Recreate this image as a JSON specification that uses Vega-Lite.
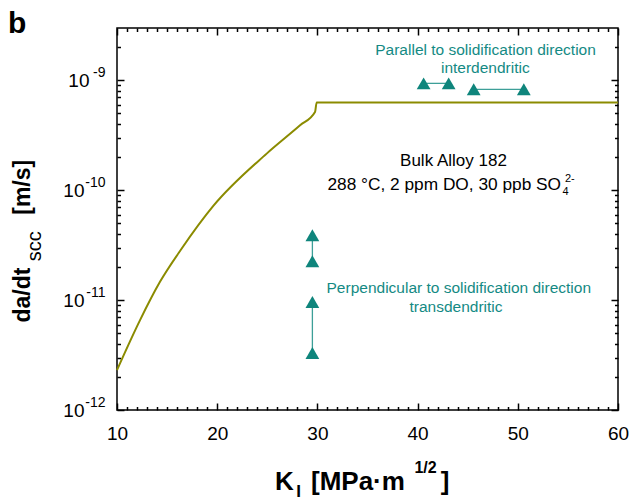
{
  "$schema": "https://vega.github.io/schema/vega-lite/v6.json",
  "width": 501,
  "height": 382,
  "autosize": "none",
  "padding": {"left": 117, "top": 28, "right": 19, "bottom": 89},
  "title": {"text": "b", "anchor": "start", "frame": "group", "fontSize": 30, "fontWeight": "bold", "font": "Liberation Sans", "color": "black", "baseline": "alphabetic", "dx": -109, "dy": 36, "offset": 0},
  "config": {
    "view": {"stroke": "black", "strokeWidth": 1.5},
    "font": "Liberation Sans",
    "axis": {"domain": false, "grid": false, "labelFont": "Liberation Sans", "labelColor": "black", "tickColor": "black", "tickWidth": 1.5, "zindex": 1}
  },
  "datasets": {
    "curve": [
      {"K": 10, "v": 2.31e-12},
      {"K": 12.3, "v": 6.58e-12},
      {"K": 14.29, "v": 1.467e-11},
      {"K": 16.46, "v": 2.95e-11},
      {"K": 19.61, "v": 7.2e-11},
      {"K": 24.94, "v": 2.156e-10},
      {"K": 28.27, "v": 3.9e-10},
      {"K": 29.76, "v": 5.15e-10},
      {"K": 29.93, "v": 6.31e-10},
      {"K": 60, "v": 6.31e-10}
    ],
    "markers": [
      {"K": 29.5, "v": 3.9e-11, "pair": "A"},
      {"K": 29.5, "v": 2.26e-11, "pair": "A"},
      {"K": 29.5, "v": 9.6e-12, "pair": "B"},
      {"K": 29.5, "v": 3.3e-12, "pair": "B"},
      {"K": 40.6, "v": 9.4e-10, "pair": "C"},
      {"K": 43.1, "v": 9.4e-10, "pair": "C"},
      {"K": 45.6, "v": 8.3e-10, "pair": "D"},
      {"K": 50.6, "v": 8.3e-10, "pair": "D"}
    ],
    "tealText": [
      {"K": 46.78, "v": 1.688e-9, "t": "Parallel to solidification direction"},
      {"K": 46.76, "v": 1.158e-9, "t": "interdendritic"},
      {"K": 44.11, "v": 1.165e-11, "t": "Perpendicular to solidification direction"},
      {"K": 43.83, "v": 7.83e-12, "t": "transdendritic"}
    ],
    "blackCenter": [
      {"K": 43.58, "v": 1.652e-10, "t": "Bulk Alloy 182"}
    ],
    "blackLeft": [
      {"K": 31.0, "v": 1e-10, "t": "288 °C, 2 ppm DO, 30 ppb SO"}
    ],
    "chemScript": [
      {"K": 54.45, "v": 9.0e-11, "t": "4"},
      {"K": 54.71, "v": 1.182e-10, "t": "2-"}
    ],
    "xTitleMain": [
      {"K": 25.77, "v": 1.874e-13, "t": "K"},
      {"K": 29.36, "v": 1.874e-13, "t": "[MPa·m"},
      {"K": 42.3, "v": 1.874e-13, "t": "]"}
    ],
    "xTitleSub": [
      {"K": 28.13, "v": 1.62e-13, "t": "I"}
    ],
    "xTitleSup": [
      {"K": 40.79, "v": 2.68e-13, "t": "1/2"}
    ],
    "yTitleMain": [
      {"K": 1.32, "v": 1.111e-11, "t": "da/dt"},
      {"K": 1.32, "v": 1.065e-10, "t": "[m/s]"}
    ],
    "yTitleSub": [
      {"K": 2.42, "v": 3.097e-11, "t": "scc"}
    ]
  },
  "resolve": {"axis": {"x": "independent", "y": "independent"}},
  "layer": [
    {
      "data": {"name": "curve"},
      "mark": {"type": "line", "color": "#8b8b00", "strokeWidth": 2, "interpolate": "monotone"},
      "encoding": {
        "x": {"field": "K", "type": "quantitative", "scale": {"domain": [10, 60], "nice": false, "zero": false},
          "axis": {"orient": "bottom", "title": null, "zindex": 1, "values": [10, 20, 30, 40, 50, 60], "tickSize": -7, "tickWidth": 1.5, "tickColor": "black", "labelFontSize": 19, "labelPadding": 21, "labelFlush": false}},
        "y": {"field": "v", "type": "quantitative", "scale": {"type": "log", "domain": [1e-12, 3e-9], "nice": false},
          "axis": {"orient": "left", "title": null, "zindex": 1, "values": [1e-12, 1e-11, 1e-10, 1e-9], "tickSize": -7, "tickWidth": 1.5, "tickColor": "black", "labelExpr": "'10'", "labelFontSize": 19, "labelBaseline": "middle", "labelPadding": {"condition": {"test": "datum.value > 5e-10", "value": 35}, "value": 40}}}
      }
    },
    {
      "data": {"name": "markers"},
      "mark": {"type": "line", "color": "#3d9f98", "strokeWidth": 1.3},
      "encoding": {
        "x": {"field": "K", "type": "quantitative", "scale": {"domain": [10, 60], "nice": false, "zero": false},
          "axis": {"orient": "top", "title": null, "zindex": 1, "values": [10, 20, 30, 40, 50, 60], "tickSize": -7, "tickWidth": 1.5, "tickColor": "black", "labels": false}},
        "y": {"field": "v", "type": "quantitative", "scale": {"type": "log", "domain": [1e-12, 3e-9], "nice": false},
          "axis": {"orient": "right", "title": null, "zindex": 1, "values": [1e-12, 1e-11, 1e-10, 1e-9], "tickSize": -7, "tickWidth": 1.5, "tickColor": "black", "labels": false}},
        "detail": {"field": "pair", "type": "nominal"}
      }
    },
    {
      "data": {"name": "markers"},
      "mark": {"type": "point", "shape": "triangle-up", "filled": true, "color": "#0f857c", "opacity": 1, "size": 190},
      "encoding": {
        "x": {"field": "K", "type": "quantitative", "scale": {"domain": [10, 60], "nice": false, "zero": false},
          "axis": {"orient": "bottom", "title": null, "zindex": 1, "values": [11, 12, 13, 14, 15, 16, 17, 18, 19, 21, 22, 23, 24, 25, 26, 27, 28, 29, 31, 32, 33, 34, 35, 36, 37, 38, 39, 41, 42, 43, 44, 45, 46, 47, 48, 49, 51, 52, 53, 54, 55, 56, 57, 58, 59], "tickSize": -3.5, "tickWidth": 1.5, "tickColor": "black", "labels": false}},
        "y": {"field": "v", "type": "quantitative", "scale": {"type": "log", "domain": [1e-12, 3e-9], "nice": false},
          "axis": {"orient": "left", "title": null, "zindex": 1, "values": [2e-12, 3e-12, 4e-12, 5e-12, 6e-12, 7e-12, 8e-12, 9e-12, 2e-11, 3e-11, 4e-11, 5e-11, 6e-11, 7e-11, 8e-11, 9e-11, 2e-10, 3e-10, 4e-10, 5e-10, 6e-10, 7e-10, 8e-10, 9e-10, 2e-9], "tickSize": -3.5, "tickWidth": 1.5, "tickColor": "black", "labels": false}}
      }
    },
    {
      "data": {"name": "tealText"},
      "mark": {"type": "text", "color": "#148a84", "fontSize": 15.5, "font": "Liberation Sans", "align": "center", "baseline": "alphabetic"},
      "encoding": {
        "x": {"field": "K", "type": "quantitative", "scale": {"domain": [10, 60], "nice": false, "zero": false},
          "axis": {"orient": "top", "title": null, "zindex": 1, "values": [11, 12, 13, 14, 15, 16, 17, 18, 19, 21, 22, 23, 24, 25, 26, 27, 28, 29, 31, 32, 33, 34, 35, 36, 37, 38, 39, 41, 42, 43, 44, 45, 46, 47, 48, 49, 51, 52, 53, 54, 55, 56, 57, 58, 59], "tickSize": -3.5, "tickWidth": 1.5, "tickColor": "black", "labels": false}},
        "y": {"field": "v", "type": "quantitative", "scale": {"type": "log", "domain": [1e-12, 3e-9], "nice": false},
          "axis": {"orient": "right", "title": null, "zindex": 1, "values": [2e-12, 3e-12, 4e-12, 5e-12, 6e-12, 7e-12, 8e-12, 9e-12, 2e-11, 3e-11, 4e-11, 5e-11, 6e-11, 7e-11, 8e-11, 9e-11, 2e-10, 3e-10, 4e-10, 5e-10, 6e-10, 7e-10, 8e-10, 9e-10, 2e-9], "tickSize": -3.5, "tickWidth": 1.5, "tickColor": "black", "labels": false}},
        "text": {"field": "t", "type": "nominal"}
      }
    },
    {
      "data": {"name": "blackCenter"},
      "mark": {"type": "text", "color": "black", "fontSize": 17, "font": "Liberation Sans", "align": "center", "baseline": "alphabetic"},
      "encoding": {
        "x": {"field": "K", "type": "quantitative", "scale": {"domain": [10, 60], "nice": false, "zero": false}, "axis": null},
        "y": {"field": "v", "type": "quantitative", "scale": {"type": "log", "domain": [1e-12, 3e-9], "nice": false}, "axis": null},
        "text": {"field": "t", "type": "nominal"}
      }
    },
    {
      "data": {"name": "blackLeft"},
      "mark": {"type": "text", "color": "black", "fontSize": 17.3, "font": "Liberation Sans", "align": "left", "baseline": "alphabetic"},
      "encoding": {
        "x": {"field": "K", "type": "quantitative", "scale": {"domain": [10, 60], "nice": false, "zero": false}, "axis": null},
        "y": {"field": "v", "type": "quantitative", "scale": {"type": "log", "domain": [1e-12, 3e-9], "nice": false},
          "axis": {"orient": "left", "title": null, "zindex": 1, "values": [1e-12, 1e-11, 1e-10, 1e-9], "ticks": false, "labelFontSize": 14, "labelPadding": 12, "labelOffset": -8, "labelBaseline": "middle", "labelExpr": "'-' + format(-round(log(datum.value) / LN10), 'd')"}},
        "text": {"field": "t", "type": "nominal"}
      }
    },
    {
      "data": {"name": "chemScript"},
      "mark": {"type": "text", "color": "black", "fontSize": 11, "font": "Liberation Sans", "align": "left", "baseline": "alphabetic"},
      "encoding": {
        "x": {"field": "K", "type": "quantitative", "scale": {"domain": [10, 60], "nice": false, "zero": false}, "axis": null},
        "y": {"field": "v", "type": "quantitative", "scale": {"type": "log", "domain": [1e-12, 3e-9], "nice": false}, "axis": null},
        "text": {"field": "t", "type": "nominal"}
      }
    },
    {
      "data": {"name": "xTitleMain"},
      "mark": {"type": "text", "color": "black", "fontSize": 26, "fontWeight": "bold", "font": "Liberation Sans", "align": "left", "baseline": "alphabetic"},
      "encoding": {
        "x": {"field": "K", "type": "quantitative", "scale": {"domain": [10, 60], "nice": false, "zero": false}, "axis": null},
        "y": {"field": "v", "type": "quantitative", "scale": {"type": "log", "domain": [1e-12, 3e-9], "nice": false}, "axis": null},
        "text": {"field": "t", "type": "nominal"}
      }
    },
    {
      "data": {"name": "xTitleSub"},
      "mark": {"type": "text", "color": "black", "fontSize": 17, "fontWeight": "bold", "font": "Liberation Sans", "align": "center", "baseline": "alphabetic"},
      "encoding": {
        "x": {"field": "K", "type": "quantitative", "scale": {"domain": [10, 60], "nice": false, "zero": false}, "axis": null},
        "y": {"field": "v", "type": "quantitative", "scale": {"type": "log", "domain": [1e-12, 3e-9], "nice": false}, "axis": null},
        "text": {"field": "t", "type": "nominal"}
      }
    },
    {
      "data": {"name": "xTitleSup"},
      "mark": {"type": "text", "color": "black", "fontSize": 16, "fontWeight": "bold", "font": "Liberation Sans", "align": "center", "baseline": "alphabetic"},
      "encoding": {
        "x": {"field": "K", "type": "quantitative", "scale": {"domain": [10, 60], "nice": false, "zero": false}, "axis": null},
        "y": {"field": "v", "type": "quantitative", "scale": {"type": "log", "domain": [1e-12, 3e-9], "nice": false}, "axis": null},
        "text": {"field": "t", "type": "nominal"}
      }
    },
    {
      "data": {"name": "yTitleMain"},
      "mark": {"type": "text", "color": "black", "fontSize": 23, "fontWeight": "bold", "font": "Liberation Sans", "align": "center", "baseline": "alphabetic", "angle": 270},
      "encoding": {
        "x": {"field": "K", "type": "quantitative", "scale": {"domain": [10, 60], "nice": false, "zero": false}, "axis": null},
        "y": {"field": "v", "type": "quantitative", "scale": {"type": "log", "domain": [1e-12, 3e-9], "nice": false}, "axis": null},
        "text": {"field": "t", "type": "nominal"}
      }
    },
    {
      "data": {"name": "yTitleSub"},
      "mark": {"type": "text", "color": "black", "fontSize": 20, "font": "Liberation Sans", "align": "center", "baseline": "alphabetic", "angle": 270},
      "encoding": {
        "x": {"field": "K", "type": "quantitative", "scale": {"domain": [10, 60], "nice": false, "zero": false}, "axis": null},
        "y": {"field": "v", "type": "quantitative", "scale": {"type": "log", "domain": [1e-12, 3e-9], "nice": false}, "axis": null},
        "text": {"field": "t", "type": "nominal"}
      }
    }
  ]
}
